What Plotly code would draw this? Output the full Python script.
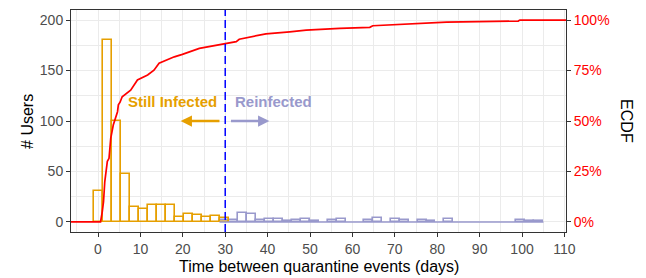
import numpy as np
import plotly.graph_objects as go

# ---- data ----
bin_width = 104 / 49            # histogram bin width (days)
still_bins = list(range(0, 15))  # bin indices, bin centre = index * bin_width
still_counts = [31, 180, 100, 47, 15, 13, 17, 17, 17, 5, 8, 7, 5, 6, 4]

reinf_bins = list(range(14, 50))
reinf_counts = [2, 2, 9, 8, 2, 3, 3, 1, 2, 3, 1, 0, 2, 3, 0, 0, 2, 4, 0, 3,
                2, 0, 2, 1, 0, 3, 0, 0, 0, 0, 0, 0, 0, 2, 1, 1]

ecdf_days = [-10, 0.6, 1.0, 1.3, 1.6, 1.9, 2.2, 2.6, 3.0, 3.6, 3.9, 4.6, 4.8, 5.2,
             5.7, 6.5, 7.7, 9.3, 11.7, 13.2, 14.4, 18.0, 19.9, 23.9, 27.8, 30.0,
             32.6, 33.3, 35.7, 39.6, 45.2, 49.1, 57.0, 64.1, 64.8, 71.2, 76.7,
             82.2, 99.1, 99.5, 120]
ecdf_vals = [0, 0, 0.05, 0.10, 0.20, 0.266, 0.30, 0.315, 0.414, 0.48, 0.50, 0.546,
             0.58, 0.593, 0.62, 0.632, 0.653, 0.703, 0.728, 0.752, 0.786, 0.818,
             0.83, 0.86, 0.876, 0.885, 0.893, 0.905, 0.915, 0.932, 0.942, 0.950,
             0.959, 0.964, 0.972, 0.978, 0.984, 0.990, 0.995, 1.0, 1.0]

cutoff_day = 30
x_ticks = list(range(0, 111, 10))
y_ticks = [0, 50, 100, 150, 200]
ecdf_ticks = [0, 0.25, 0.5, 0.75, 1.0]
ecdf_tick_labels = ["0%", "25%", "50%", "75%", "100%"]

ORANGE = "#E69F00"
PURPLE = "#9999CC"
FONT = "Liberation Sans, Arial, sans-serif"

still_x = [b * bin_width for b in still_bins]
reinf_x = [b * bin_width for b in reinf_bins]
reinf_nz = [(x, c) for x, c in zip(reinf_x, reinf_counts) if c > 0]

fig = go.Figure()

# baseline of empty reinfected bins (ggplot draws zero-height bins as a line)
fig.add_trace(go.Scatter(
    x=[reinf_x[0] - bin_width / 2, reinf_x[-1] + bin_width / 2], y=[0, 0],
    mode="lines", line=dict(color=PURPLE, width=1.5), showlegend=False,
    hoverinfo="skip"))

fig.add_trace(go.Bar(
    x=[p[0] for p in reinf_nz], y=[p[1] for p in reinf_nz], width=bin_width,
    marker=dict(color="rgba(0,0,0,0)", line=dict(color=PURPLE, width=1.6)),
    showlegend=False))

fig.add_trace(go.Bar(
    x=still_x, y=still_counts, width=bin_width,
    marker=dict(color="rgba(0,0,0,0)", line=dict(color=ORANGE, width=1.6)),
    showlegend=False))

fig.add_trace(go.Scatter(
    x=ecdf_days, y=ecdf_vals, yaxis="y2", mode="lines",
    line=dict(color="#FF0000", width=1.7), showlegend=False))

fig.add_vline(x=cutoff_day, line=dict(color="#0000FF", width=1.5, dash="8px,4px"),
              layer="above")

axis_common = dict(
    showline=True, linecolor="#333333", linewidth=1, automargin=False,
    ticks="outside", ticklen=4, tickcolor="#333333", tickwidth=1,
    tickfont=dict(family=FONT, size=14, color="#4D4D4D"),
    zeroline=False,
)

fig.update_layout(
    template="none",
    width=646, height=278,
    margin=dict(l=71, r=80, t=10, b=46),
    plot_bgcolor="white", paper_bgcolor="white",
    barmode="overlay", bargap=0,
    font=dict(family=FONT),
    xaxis=dict(
        range=[-6.37, 110.37], tickvals=x_ticks, mirror=True,
        showgrid=True, gridcolor="#EBEBEB", gridwidth=1,
        minor=dict(dtick=5, tick0=0, showgrid=True, gridcolor="#EBEBEB", gridwidth=0.6),
        **axis_common),
    yaxis=dict(
        range=[-10, 210], tickvals=y_ticks, mirror=True,
        showgrid=True, gridcolor="#EBEBEB", gridwidth=1,
        minor=dict(dtick=25, tick0=0, showgrid=True, gridcolor="#EBEBEB", gridwidth=0.6),
        **axis_common),
    yaxis2=dict(
        overlaying="y", side="right", range=[-0.05, 1.05], automargin=False,
        tickvals=ecdf_ticks, ticktext=ecdf_tick_labels, showgrid=False,
        showline=True, linecolor="#333333", linewidth=1,
        ticks="outside", ticklen=4, tickcolor="#333333", tickwidth=1,
        tickfont=dict(family=FONT, size=14, color="#FF0000"), zeroline=False),
)

# axis titles
fig.add_annotation(text="Time between quarantine events (days)", xref="paper",
                   yref="paper", x=0.5, y=-0.157, yanchor="middle", showarrow=False,
                   font=dict(family=FONT, size=16, color="black"))
fig.add_annotation(text="# Users", xref="paper", yref="paper", x=-0.089, y=0.5,
                   xanchor="center", yanchor="middle", textangle=-90, showarrow=False,
                   font=dict(family=FONT, size=16, color="black"))
fig.add_annotation(text="ECDF", xref="paper", yref="paper", x=1.123, y=0.5,
                   xanchor="center", yanchor="middle", textangle=90, showarrow=False,
                   font=dict(family=FONT, size=16, color="black"))

fig.add_annotation(text="Still Infected", x=28.6, y=119, xanchor="right",
                   showarrow=False,
                   font=dict(family=FONT, size=15, color=ORANGE, weight="bold"))
fig.add_annotation(text="Reinfected", x=31.8, y=119, xanchor="left",
                   showarrow=False,
                   font=dict(family=FONT, size=15, color=PURPLE, weight="bold"))

fig.add_annotation(x=19.5, y=100, ax=29, ay=100, axref="x", ayref="y",
                   text="", showarrow=True, arrowhead=2, arrowsize=0.9,
                   arrowwidth=2.5, arrowcolor=ORANGE)
fig.add_annotation(x=40.4, y=100, ax=31, ay=100, axref="x", ayref="y",
                   text="", showarrow=True, arrowhead=2, arrowsize=0.9,
                   arrowwidth=2.5, arrowcolor=PURPLE)

fig.write_html("out.html", config={"displayModeBar": False},
               post_script="document.body.style.margin='0';document.body.style.padding='0';")
